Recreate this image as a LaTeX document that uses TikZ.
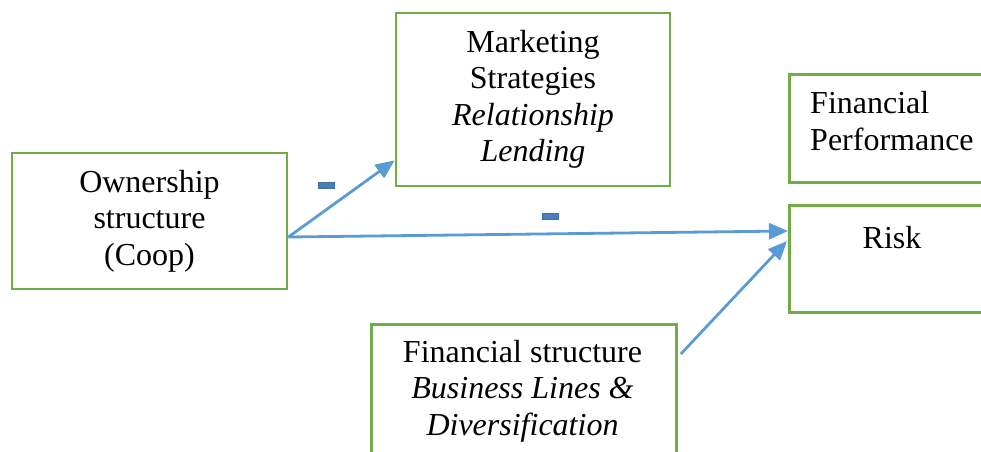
\documentclass[tikz,border=0pt]{standalone}
\usepackage{fontspec}
\setmainfont{Liberation Serif}
\usetikzlibrary{arrows.meta,calc}
\definecolor{boxgreen}{HTML}{70AD47}
\definecolor{arrblue}{HTML}{5B9BD5}
\definecolor{minusfill}{HTML}{4A7EBB}
\definecolor{minusdraw}{HTML}{41719C}
\begin{document}
\begin{tikzpicture}[x=1pt,y=-1pt,
  box/.style={draw=boxgreen,line width=2.8pt,rectangle,inner sep=0pt,align=center,
    font=\fontsize{32}{36.5}\selectfont},
  txt/.style={inner sep=0pt,font=\fontsize{32}{36.5}\selectfont},
  conn/.style={draw=arrblue,line width=2.8pt,-{Triangle[length=19pt,width=16pt]}},
  minus/.style={draw=minusdraw,fill=minusfill,line width=0.8pt,minimum width=16pt,minimum height=6pt,inner sep=0pt}]
\useasboundingbox (0,0) rectangle (981,451);
% boxes
\node[box,minimum width=275pt,minimum height=136pt] (own) at (149.5,221) {Ownership\\structure\\(Coop)};
\node[box,minimum width=274pt,minimum height=173pt] (mk) at (533,99.5) {Marketing\\Strategies\\\textit{Relationship}\\\textit{Lending}};
\node[box,minimum width=212pt,minimum height=108pt,anchor=north west] (fpbox) at (788,73) {};
\node[txt,anchor=base west,align=left] (fp) at (810,150) {Financial\\Performance};
\node[box,minimum width=212pt,minimum height=107pt,anchor=north west] (riskbox) at (788,204) {};
\node[txt,anchor=base] (risk) at (892,248) {Risk};
\node[box,minimum width=305pt,minimum height=160pt,anchor=north west] (fsbox) at (370,323) {};
\node[txt,anchor=base,align=center] (fs) at (522.5,435) {Financial structure\\\textit{Business Lines \&}\\\textit{Diversification}};
% connector end points
\coordinate (ownout) at ($(own.east)+(0,16)$);
\coordinate (mkin) at ($(mk.south west)+(0,-27)$);
\coordinate (riskin1) at ($(riskbox.north west)+(0,27)$);
\coordinate (riskin2) at ($(riskbox.north west)+(-1,37)$);
\coordinate (fsout) at ($(fsbox.north east)+(3,31)$);
\draw[conn] (ownout) -- (mkin);
\draw[conn] (ownout) -- (riskin1);
\draw[conn] (fsout) -- (riskin2);
% minus signs
\node[minus] (m1) at (326,185) {};
\node[minus] (m2) at (550.5,216) {};
\end{tikzpicture}
\end{document}
